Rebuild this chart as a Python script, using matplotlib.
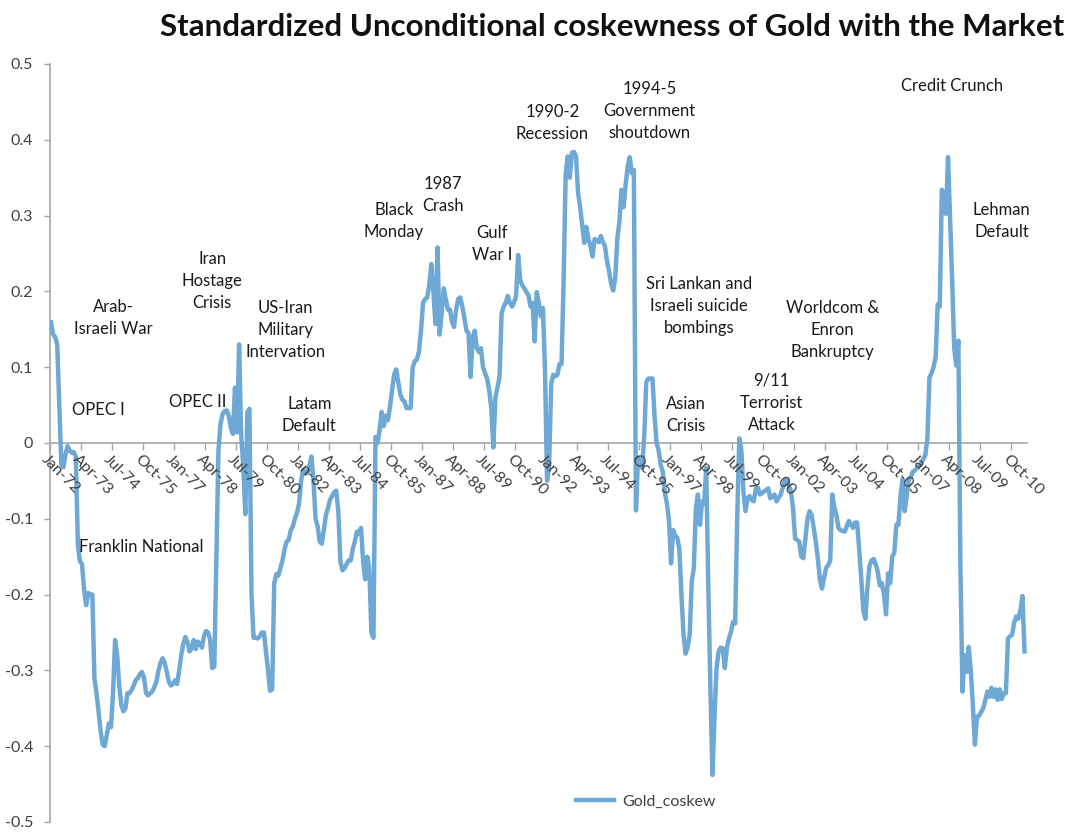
import matplotlib
matplotlib.use('Agg')
import matplotlib.pyplot as plt

plt.rcParams['font.family'] = ['Lato', 'DejaVu Sans']

# month index counted from Jan-72
months = [0, 1, 2, 3, 4, 5, 6, 7, 8, 9, 10, 11, 12, 13, 14, 15, 16, 17, 18, 19, 20,
          21, 22, 23, 24, 25, 26, 27, 28, 29, 30, 31, 32, 33, 34, 35, 36, 37, 38, 39,
          40, 41, 42, 43, 44, 45, 46, 47, 48, 49, 50, 51, 52, 53, 54, 55, 56, 57, 58,
          59, 60, 61, 62, 63, 64, 65, 66, 67, 68, 69, 70, 71, 72, 73, 74, 75, 76, 77,
          78, 79, 80, 81, 82, 83, 84, 85, 86, 87, 88, 89, 90, 91, 92, 93, 94, 95, 96,
          97, 98, 99, 100, 101, 102, 103, 104, 105, 106, 107, 108, 109, 110, 111, 112,
          113, 114, 115, 116, 117, 118, 119, 120, 121, 122, 123, 124, 125, 126, 127,
          128, 129, 130, 131, 132, 133, 134, 135, 136, 137, 138, 139, 140, 141, 142,
          143, 144, 145, 146, 147, 148, 149, 150, 151, 152, 153, 154, 155, 156, 157,
          158, 159, 160, 161, 162, 163, 164, 165, 166, 167, 168, 169, 170, 171, 172,
          174, 175, 176, 177, 178, 179, 180, 181, 182, 183, 184, 185, 186, 187, 188,
          189, 190, 191, 192, 193, 194, 195, 196, 197, 198, 199, 200, 201, 202, 203,
          204, 205, 206, 207, 208, 209, 210, 211, 212, 213, 214, 215, 216, 217, 218,
          219, 220, 221, 222, 223, 224, 225, 226, 227, 228, 229, 230, 231, 232, 233,
          234, 235, 236, 237, 238, 239, 240, 241, 242, 243, 244, 245, 246, 247, 248,
          249, 250, 251, 252, 253, 254, 255, 256, 257, 258, 259, 260, 261, 262, 263,
          264, 265, 266, 267, 268, 269, 270, 271, 272, 273, 274, 275, 276, 277, 278,
          279, 280, 281, 282, 283, 284, 285, 286, 287, 288, 289, 290, 291, 292, 293,
          294, 295, 296, 297, 298, 299, 300, 301, 302, 303, 304, 305, 306, 307, 308,
          309, 310, 311, 312, 313, 314, 315, 316, 317, 318, 319, 320, 321, 322, 323,
          324, 325, 326, 327, 328, 329, 330, 331, 332, 333, 334, 335, 336, 337, 338,
          339, 340, 341, 342, 343, 345, 347, 348, 350, 351, 353, 355, 356, 358, 359,
          360, 362, 363, 364, 365, 366, 367, 368, 369, 370, 371, 372, 373, 374, 375,
          376, 377, 378, 379, 380, 381, 382, 384, 386, 388, 389, 390, 391, 392, 393,
          394, 395, 396, 397, 398, 399, 400, 401, 402, 403, 404, 405, 406, 407, 408,
          409, 410, 411, 412, 413, 414, 415, 416, 417, 418, 420, 421, 423, 424, 425,
          426, 427, 428, 429, 430, 431, 432, 433, 434, 435, 436, 437, 438, 439, 440,
          441, 442, 443, 444, 445, 446, 447, 448, 449, 450, 451, 452, 453, 454, 455,
          456, 457, 458, 459, 460, 461, 462, 463, 464, 465, 466, 467, 468, 469, 470, 471]

gold_coskew = [0.159, 0.143, 0.14, 0.13, 0.05, -0.029, -0.032, -0.015, -0.004, -0.01, -0.013,
               -0.012, -0.018, -0.135, -0.156, -0.16, -0.193, -0.214, -0.198, -0.2, -0.2,
               -0.31, -0.33, -0.354, -0.38, -0.398, -0.4, -0.385, -0.37, -0.375, -0.33,
               -0.26, -0.28, -0.32, -0.345, -0.354, -0.35, -0.33, -0.33, -0.326, -0.32,
               -0.313, -0.31, -0.305, -0.302, -0.31, -0.33, -0.333, -0.33, -0.328, -0.322,
               -0.315, -0.3, -0.29, -0.284, -0.29, -0.302, -0.315, -0.32, -0.318, -0.313,
               -0.318, -0.3, -0.28, -0.265, -0.256, -0.262, -0.275, -0.271, -0.26, -0.272,
               -0.262, -0.265, -0.27, -0.255, -0.248, -0.25, -0.26, -0.297, -0.295, -0.15,
               -0.01, 0.025, 0.038, 0.042, 0.043, 0.036, 0.02, 0.012, 0.073, 0.014, 0.13,
               0.01, -0.03, -0.094, 0.04, 0.045, -0.2, -0.257, -0.257, -0.258, -0.255,
               -0.25, -0.25, -0.275, -0.3, -0.327, -0.325, -0.185, -0.173, -0.175, -0.165,
               -0.155, -0.14, -0.13, -0.128, -0.115, -0.11, -0.1, -0.092, -0.08, -0.05,
               -0.035, -0.04, -0.04, -0.03, -0.018, -0.05, -0.1, -0.11, -0.13, -0.133,
               -0.115, -0.095, -0.086, -0.075, -0.07, -0.065, -0.063, -0.09, -0.156,
               -0.168, -0.165, -0.16, -0.155, -0.155, -0.14, -0.13, -0.117, -0.12, -0.112,
               -0.156, -0.18, -0.15, -0.165, -0.25, -0.257, 0.008, 0.0, 0.018, 0.041,
               0.022, 0.036, 0.03, 0.048, 0.069, 0.09, 0.097, 0.08, 0.064, 0.057, 0.055,
               0.046, 0.046, 0.1, 0.108, 0.11, 0.12, 0.148, 0.185, 0.19, 0.192, 0.208,
               0.236, 0.2, 0.157, 0.258, 0.143, 0.171, 0.204, 0.19, 0.176, 0.176, 0.16,
               0.153, 0.176, 0.19, 0.192, 0.18, 0.165, 0.148, 0.145, 0.087, 0.139, 0.148,
               0.125, 0.12, 0.125, 0.1, 0.092, 0.085, 0.07, 0.046, -0.006, 0.06, 0.073,
               0.087, 0.171, 0.18, 0.185, 0.194, 0.185, 0.18, 0.185, 0.194, 0.248, 0.215,
               0.208, 0.204, 0.199, 0.195, 0.18, 0.185, 0.134, 0.199, 0.185, 0.167, 0.178,
               0.097, -0.05, -0.03, 0.078, 0.09, 0.088, 0.09, 0.104, 0.104, 0.213, 0.355,
               0.378, 0.35, 0.383, 0.384, 0.378, 0.33, 0.311, 0.287, 0.264, 0.285, 0.269,
               0.26, 0.246, 0.269, 0.268, 0.265, 0.273, 0.265, 0.26, 0.24, 0.227, 0.21,
               0.201, 0.218, 0.27, 0.292, 0.334, 0.311, 0.34, 0.365, 0.377, 0.356, 0.36,
               -0.089, -0.02, -0.024, -0.033, 0.008, 0.08, 0.085, 0.085, 0.085, 0.036,
               0.0, -0.01, -0.029, -0.038, -0.066, -0.08, -0.103, -0.159, -0.115, -0.122,
               -0.125, -0.14, -0.2, -0.252, -0.278, -0.27, -0.253, -0.183, -0.165, -0.086,
               -0.068, -0.108, -0.077, -0.08, -0.033, -0.187, -0.319, -0.438, -0.363,
               -0.297, -0.275, -0.27, -0.271, -0.297, -0.27, -0.258, -0.249, -0.236,
               -0.238, -0.099, 0.006, -0.01, -0.064, -0.09, -0.073, -0.07, -0.075, -0.077,
               -0.06, -0.059, -0.068, -0.064, -0.06, -0.073, -0.068, -0.077, -0.068,
               -0.051, -0.048, -0.064, -0.086, -0.126, -0.13, -0.15, -0.152, -0.126, -0.1,
               -0.09, -0.095, -0.112, -0.13, -0.152, -0.18, -0.192, -0.178, -0.165, -0.161,
               -0.155, -0.068, -0.085, -0.095, -0.112, -0.115, -0.117, -0.103, -0.112,
               -0.105, -0.105, -0.14, -0.178, -0.221, -0.232, -0.19, -0.162, -0.155,
               -0.153, -0.16, -0.17, -0.188, -0.185, -0.2, -0.226, -0.172, -0.185, -0.15,
               -0.145, -0.108, -0.108, -0.07, -0.048, -0.09, -0.07, -0.048, -0.045, -0.038,
               -0.036, -0.03, -0.027, -0.016, 0.005, 0.086, 0.092, 0.1, 0.113, 0.183, 0.18,
               0.334, 0.33, 0.302, 0.377, 0.296, 0.215, 0.124, 0.102, 0.135, -0.167,
               -0.328, -0.28, -0.302, -0.269, -0.3, -0.345, -0.398, -0.361, -0.36, -0.355,
               -0.35, -0.34, -0.328, -0.335, -0.323, -0.335, -0.325, -0.339, -0.325,
               -0.338, -0.33, -0.33, -0.258, -0.255, -0.253, -0.237, -0.229, -0.232,
               -0.221, -0.202, -0.275]

tick_labels = ['Jan-72', 'Apr-73', 'Jul-74', 'Oct-75', 'Jan-77', 'Apr-78', 'Jul-79', 'Oct-80',
               'Jan-82', 'Apr-83', 'Jul-84', 'Oct-85', 'Jan-87', 'Apr-88', 'Jul-89', 'Oct-90',
               'Jan-92', 'Apr-93', 'Jul-94', 'Oct-95', 'Jan-97', 'Apr-98', 'Jul-99', 'Oct-00',
               'Jan-02', 'Apr-03', 'Jul-04', 'Oct-05', 'Jan-07', 'Apr-08', 'Jul-09', 'Oct-10']
tick_step = 15

y_ticks = [0.5, 0.4, 0.3, 0.2, 0.1, 0, -0.1, -0.2, -0.3, -0.4, -0.5]
y_labels = ['0.5', '0.4', '0.3', '0.2', '0.1', '0', '-0.1', '-0.2', '-0.3', '-0.4', '-0.5']

# event labels: (text, month, value)
events = [
    ('Arab-\nIsraeli War', 30, 0.165),
    ('OPEC I', 23, 0.044),
    ('Iran\nHostage\nCrisis', 78, 0.214),
    ('OPEC II', 71, 0.054),
    ('US-Iran\nMilitary\nIntervation', 113.5, 0.149),
    ('Latam\nDefault', 125, 0.037),
    ('Franklin National', 43.5, -0.137),
    ('Black\nMonday', 166, 0.293),
    ('1987\nCrash', 189.5, 0.327),
    ('Gulf\nWar I', 213.5, 0.263),
    ('1990-2\nRecession', 242.5, 0.422),
    ('1994-5\nGovernment\nshoutdown', 289.5, 0.438),
    ('Sri Lankan and\nIsraeli suicide\nbombings', 313.5, 0.181),
    ('Asian\nCrisis', 307, 0.037),
    ('9/11\nTerrorist\nAttack', 348.5, 0.053),
    ('Worldcom &\nEnron\nBankruptcy', 378, 0.149),
    ('Credit Crunch', 436, 0.471),
    ('Lehman\nDefault', 460, 0.293),
]

line_color = '#6ea8d5'
axis_color = '#a6a6a6'
text_color = '#404040'

fig = plt.figure(figsize=(10.68, 8.35), dpi=100)
ax = fig.add_axes([0.0468, 0.0156, 0.9148, 0.9078])

ax.plot(months, gold_coskew, color=line_color, linewidth=3.2, solid_joinstyle='round',
        label='Gold_coskew', zorder=3)

ax.set_xlim(-0.5, 472.2)
ax.set_ylim(-0.5, 0.5)

for side in ['top', 'right']:
    ax.spines[side].set_visible(False)
ax.spines['bottom'].set_position(('data', 0))
ax.spines['bottom'].set_color(axis_color)
ax.spines['left'].set_color(axis_color)
ax.spines['bottom'].set_linewidth(1.2)
ax.spines['left'].set_linewidth(1.2)

ax.set_yticks(y_ticks)
ax.set_yticklabels(y_labels)
ax.tick_params(axis='y', length=4, width=1.0, color=axis_color, pad=8,
               labelsize=11.5, labelcolor=text_color)

n_ticks = len(tick_labels)
ax.set_xticks([-0.5 + tick_step * k for k in range(n_ticks)])
ax.set_xticklabels([])
ax.tick_params(axis='x', length=5, width=1.0, color=axis_color, direction='out')

for k, lab in enumerate(tick_labels):
    ax.text(tick_step * k - 1.0, -0.012, lab, rotation=-45, rotation_mode='anchor',
            ha='left', va='top', fontsize=11.5, color=text_color)

for txt, mx, vy in events:
    ax.text(mx, vy, txt, ha='center', va='center', fontsize=12, linespacing=1.45,
            color='#1a1a1a')

fig.text(612 / 1068, 1 - 27 / 835,
         'Standardized Unconditional coskewness of Gold with the Market',
         ha='center', va='center', fontsize=22.5, fontweight='bold', color='#111111')

ax.legend(loc='center', bbox_to_anchor=(646 / 1068, 1 - 802 / 835),
          bbox_transform=fig.transFigure, frameon=False, fontsize=11.5,
          handlelength=2.4, handletextpad=0.5, labelcolor=text_color)

fig.savefig('out.png', dpi=100)
